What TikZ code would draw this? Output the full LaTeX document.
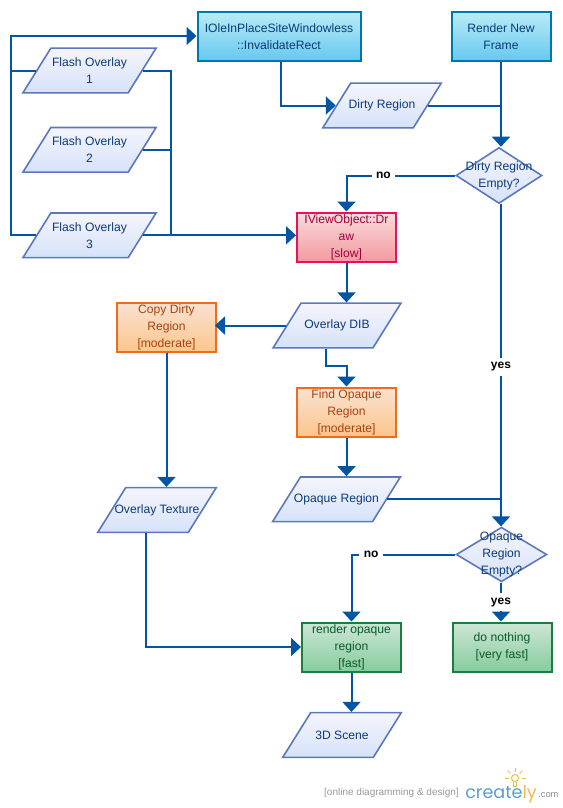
\documentclass[tikz,border=0pt]{standalone}
\usepackage{fontspec}
\setmainfont{Liberation Sans}
\newfontfamily\logofont{Poppins}
\usetikzlibrary{arrows.meta,positioning,shapes.geometric}

\definecolor{linkblue}{HTML}{0055A5}
\definecolor{inkblue}{HTML}{0B3A78}
\definecolor{dataedge}{HTML}{5B78BC}
\definecolor{datatop}{HTML}{F5F5FB}
\definecolor{databottom}{HTML}{D6E2FA}
\definecolor{logoblue}{HTML}{5C9BD1}
\definecolor{logogold}{HTML}{F2B84A}

\begin{document}
\begin{tikzpicture}[
x=0.75pt,y=-0.75pt,
every node/.style={font=\fontsize{9.1}{12.75}\selectfont},
process/.style={
rectangle,
draw,
line width=1.5pt,
minimum width=74.25pt,
minimum height=36.75pt,
inner sep=0pt,
align=center
},
startbox/.style={process,draw={rgb,255:red,0;green,119;blue,170},top color={rgb,255:red,184;green,236;blue,246},bottom color={rgb,255:red,102;green,200;blue,240},text=inkblue},
slowbox/.style={process,draw={rgb,255:red,232;green,18;blue,92},top color={rgb,255:red,248;green,220;blue,220},bottom color={rgb,255:red,244;green,154;blue,160},text={rgb,255:red,160;green,0;blue,60}},
midbox/.style={process,draw={rgb,255:red,242;green,106;blue,33},top color={rgb,255:red,249;green,226;blue,210},bottom color={rgb,255:red,252;green,198;blue,140},text={rgb,255:red,168;green,68;blue,16}},
fastbox/.style={process,draw={rgb,255:red,26;green,127;blue,60},top color={rgb,255:red,205;green,230;blue,213},bottom color={rgb,255:red,134;green,204;blue,158},text={rgb,255:red,10;green,90;blue,42}},
data/.style 2 args={
trapezium,
trapezium left angle=58,
trapezium right angle=122,
draw=dataedge,
line width=1.2pt,
top color=datatop,
bottom color=databottom,
text width=#1,
text height=33.5pt,
text depth=0pt,
inner sep=0pt,
label={[nodetext]center:#2}
},
decision/.style={
diamond,
draw=dataedge,
line width=1.2pt,
top color=datatop,
bottom color=databottom,
inner sep=0pt
},
nodetext/.style={text=inkblue,align=center},
arrow/.style={-{Triangle[length=7.5pt,width=13.5pt]},line width=1.5pt,draw=linkblue},
link/.style={line width=1.5pt,draw=linkblue},
answer/.style={fill=white,font=\fontsize{9}{11}\selectfont\bfseries}
]

\useasboundingbox (0,0) rectangle (563,808);

% input side
\node[data={58pt}{Flash Overlay\\1}] (flash1) at (89.5,70.5) {};
\node[data={58pt}{Flash Overlay\\2}, below=24.8pt of flash1] (flash2) {};
\node[data={58pt}{Flash Overlay\\3}, below=29.4pt of flash2] (flash3) {};
\node[startbox, minimum width=122.25pt] (invalidate) at (279,36.5) {IOleInPlaceSiteWindowless\\::InvalidateRect};
\node[startbox, right=66.75pt of invalidate] (render) {Render New\\Frame};
\node[data={47pt}{Dirty Region}] (dirty) at (382,105.5) {};

% middle
\node[decision, minimum width=64.5pt, minimum height=42pt,
label={[nodetext]center:Dirty Region\\Empty?}] (dirtyempty) at (499,175.5) {};
\node[slowbox] (iview) at (346.5,237) {IViewObject::Dr\\aw\\{[slow]}};
\node[data={54pt}{Overlay DIB}] (overlaydib) at (337,325.5) {};
\node[midbox] (copydirty) at (166.5,327) {Copy Dirty\\Region\\{[moderate]}};
\node[midbox] (findopaque) at (346.5,412) {Find Opaque\\Region\\{[moderate]}};
\node[data={54pt}{Opaque Region}, below=29pt of findopaque.south, anchor=north, xshift=-7.5pt] (opaque) {};
\node[data={47pt}{Overlay Texture}] (texture) at (157,510) {};

% bottom
\node[decision, minimum width=68pt, minimum height=41pt,
label={[nodetext]center:Opaque\\Region\\Empty?}] (opaqueempty) at (501.5,554.5) {};
\node[fastbox] (renderopaque) at (351.5,647) {render opaque\\region\\{[fast]}};
\node[fastbox] (nothing) at (502,647) {do nothing\\{[very fast]}};
\node[data={47pt}{3D Scene}] (scene) at (342,735) {};

\coordinate (leftbus) at (11,36);
\coordinate (rightbus) at (171,71);

\draw[arrow] (flash3.west) -| (leftbus) -- (leftbus -| invalidate.west);
\draw[link] (flash1.west) -- (leftbus |- flash1.west);
\draw[link] (flash1.east) -| (rightbus |- flash3.east);
\draw[link] (flash2.east) -- (rightbus |- flash2.east);
\draw[arrow] (flash3.east) -- (flash3.east -| iview.west);
\draw[arrow] ([xshift=1.5pt]invalidate.south) |- (dirty.west);
\draw[arrow] (render.south) -- (render.south |- dirtyempty.north);
\draw[link] (dirty.east) -- (render.south |- dirty.east);
\draw[arrow] (dirtyempty.west) -| node[answer,pos=.33] {no} (iview.north);
\draw[arrow] (render.south |- dirtyempty.south) -- node[answer,pos=.505] {yes} (render.south |- opaqueempty.north);
\draw[arrow] (iview.south) -- (iview.south |- overlaydib.north);
\draw[arrow, shorten >=-1.5pt] (overlaydib.west) -- (overlaydib.west -| copydirty.east);
\draw[arrow] ([xshift=-8.25pt]overlaydib.south) |- ([yshift=15.75pt]findopaque.north) -- (findopaque.north);
\draw[arrow] (findopaque.south) -- (findopaque.south |- opaque.north);
\draw[link] (opaque.east) -- (render.south |- opaque.east);
\draw[arrow] (copydirty.south) -- (copydirty.south |- texture.north);
\draw[arrow] ([xshift=-8.25pt]texture.south) |- (renderopaque.west);
\draw[arrow] (opaqueempty.west) -| node[answer,pos=.405] {no} (renderopaque.north);
\draw[arrow] (render.south |- opaqueempty.south) -- node[answer,pos=.5] {yes} (render.south |- nothing.north);
\draw[arrow] (renderopaque.south) -- (renderopaque.south |- scene.north);

% footer
\node[text=black!40,font=\fontsize{7.5}{9}\selectfont,anchor=east,inner sep=0pt] (tagline) at (459,793) {[online diagramming \& design]};
\node[text=logoblue,font=\logofont\fontsize{13.2}{16}\selectfont,anchor=base west,inner sep=0pt] (logo) at (465,798) {create\textcolor{logogold}{ly}};
\node[text=black!45,font=\fontsize{7}{9}\selectfont,anchor=base west,inner sep=0pt] (logocom) at (538,797) {.com};
\draw[logogold,line width=0.7pt] (515,778) circle (3.5);
\draw[logogold,line width=0.7pt] (513.5,782) -- (513.5,786) -- (516.5,786) -- (516.5,782);
\foreach \a in {180,225,270,315,360} \draw[logogold,line width=0.6pt] (515,778) ++(\a:6.5) -- ++(\a:4);

\end{tikzpicture}
\end{document}
